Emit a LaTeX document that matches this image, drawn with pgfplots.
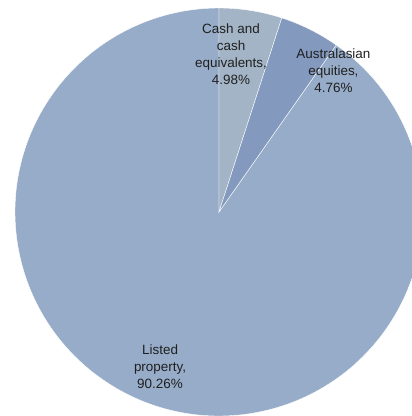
\documentclass[border=0pt]{standalone}
\usepackage{pgfplots}
\usepackage{pgfplotstable}
\pgfplotsset{compat=1.18}
\usepackage{fontspec}
\setmainfont{Liberation Sans}
\definecolor{sl-listed}{HTML}{97ACC8}
\definecolor{sl-cash}{HTML}{A2B4C6}
\definecolor{sl-equity}{HTML}{8399BE}
\definecolor{labeltext}{HTML}{202020}

% share of each slice, in per cent, clockwise from 12 o'clock
\pgfplotstableread[col sep=comma]{
name,share
cash,4.98
equity,4.76
listed,90.26
}\slices

\begin{document}
\begin{tikzpicture}[x=1bp,y=1bp]
\useasboundingbox (0,0) rectangle (412,416);
\begin{axis}[
    at={(219bp,204bp)}, anchor=center,
    scale only axis, width=408bp, height=408bp,
    xmin=-1, xmax=1, ymin=-1, ymax=1,
    hide axis, clip=false,
]
    \pgfplotstablegetelem{0}{share}\of\slices \let\scash\pgfplotsretval
    \pgfplotstablegetelem{1}{share}\of\slices \let\sequity\pgfplotsretval
    \pgfplotstablegetelem{2}{share}\of\slices \let\slisted\pgfplotsretval
    \pgfmathsetmacro\aA{90-3.6*\scash}
    \pgfmathsetmacro\aB{\aA-3.6*\sequity}
    % slices
    \fill[sl-listed,draw=white,line width=0.4bp] (axis cs:0,0) -- (axis cs:{cos(\aB)},{sin(\aB)})
        arc[start angle=\aB, delta angle=-3.6*\slisted, radius=204bp] -- cycle;
    \fill[sl-cash,draw=white,line width=0.4bp] (axis cs:0,0) -- (axis cs:0,1)
        arc[start angle=90, delta angle=-3.6*\scash, radius=204bp] -- cycle;
    \fill[sl-equity,draw=white,line width=0.4bp] (axis cs:0,0) -- (axis cs:{cos(\aA)},{sin(\aA)})
        arc[start angle=\aA, delta angle=-3.6*\sequity, radius=204bp] -- cycle;
    % labels
    \tikzset{lbl/.style={align=center, text=labeltext, font=\fontsize{13.5}{17}\selectfont, inner sep=0pt}}
    \node[lbl] at (axis cs:0.059,0.775) {Cash and\\cash\\equivalents,\\4.98\%};
    \node[lbl] at (axis cs:0.561,0.691) {Australasian\\equities,\\4.76\%};
    \node[lbl] at (axis cs:-0.289,-0.760) {Listed\\property,\\90.26\%};
\end{axis}
\end{tikzpicture}
\end{document}
